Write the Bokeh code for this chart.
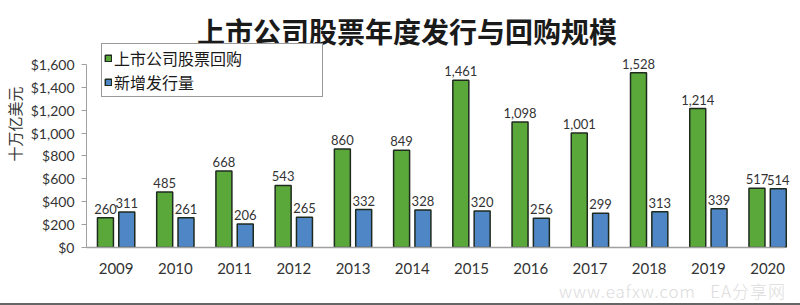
from bokeh.plotting import figure
from bokeh.models import (ColumnDataSource, Range1d, FixedTicker, NumeralTickFormatter,
                          Legend, LegendItem, Label, LabelSet, Div)
from bokeh.layouts import column
from bokeh.core.properties import value
from bokeh.embed import file_html
from bokeh.resources import INLINE

years = ["2009", "2010", "2011", "2012", "2013", "2014", "2015", "2016", "2017", "2018", "2019", "2020"]
buybacks = [260, 485, 668, 543, 860, 849, 1461, 1098, 1001, 1528, 1214, 517]
issuance = [311, 261, 206, 265, 332, 328, 320, 256, 299, 313, 339, 514]
y_ticks = [0, 200, 400, 600, 800, 1000, 1200, 1400, 1600]

title_text = "上市公司股票年度发行与回购规模"
series_names = ["上市公司股票回购", "新增发行量"]
y_label_text = "十万亿美元"
watermark = "www.eafxw.com&nbsp;&nbsp;&nbsp;EA分享网"

GREEN = "#5ba83a"
BLUE = "#4f86c6"
EDGE = "#1f2a1f"
TXT = "#333333"
FONT = "Lato"
CJK = "Noto Sans CJK SC"

idx = list(range(len(years)))
off = 0.18
src = ColumnDataSource(dict(
    x=idx,
    xg=[i - off for i in idx],
    xb=[i + off for i in idx],
    buy=buybacks,
    iss=issuance,
    buy_lbl=[f"{v:,}" for v in buybacks],
    iss_lbl=[f"{v:,}" for v in issuance],
))

p = figure(width=800, height=280, output_backend="svg", toolbar_location=None,
           x_range=Range1d(-0.5, 11.42), y_range=Range1d(0, 2159),
           min_border_left=85, min_border_right=9, min_border_top=0, min_border_bottom=33,
           frame_width=706, frame_height=247)

p.grid.visible = False
p.outline_line_color = None
p.background_fill_color = "white"
p.border_fill_color = "white"

# title drawn inside the top of the frame
p.add_layout(Label(x=4.91, y=1890, text=title_text, text_align="center",
                   text_baseline="middle", text_font=CJK, text_font_size="28px",
                   text_font_style="bold", text_color="#1a1a1a"))

w = 0.27
rg = p.vbar(x="xg", top="buy", width=w, source=src, fill_color=GREEN,
            line_color=EDGE, line_width=1.5)
rb = p.vbar(x="xb", top="iss", width=w, source=src, fill_color=BLUE,
            line_color=EDGE, line_width=1.5)

for xs, ys, ts in (("xg", "buy", "buy_lbl"), ("xb", "iss", "iss_lbl")):
    p.add_layout(LabelSet(x=xs, y=ys, text=ts, source=src, text_align="center",
                          text_baseline="bottom", y_offset=4, text_font=value(FONT),
                          text_font_size="13px", text_color=TXT))

# axes
p.yaxis.ticker = FixedTicker(ticks=y_ticks)
p.yaxis.bounds = (0, 1600)
p.yaxis.formatter = NumeralTickFormatter(format="$0,0")
p.yaxis.major_label_text_font = FONT
p.yaxis.major_label_text_font_size = "14px"
p.yaxis.major_label_text_color = TXT
p.yaxis.axis_line_color = "#a0a0a0"
p.yaxis.major_tick_line_color = "#a0a0a0"
p.yaxis.major_tick_out = 5
p.yaxis.major_tick_in = 0
p.yaxis.minor_tick_line_color = None
p.yaxis.major_label_standoff = 7
p.yaxis.axis_label = y_label_text
p.yaxis.axis_label_text_font = CJK
p.yaxis.axis_label_text_font_size = "15px"
p.yaxis.axis_label_text_font_style = "normal"
p.yaxis.axis_label_text_color = TXT
p.yaxis.axis_label_standoff = 3

p.xaxis.ticker = FixedTicker(ticks=idx)
p.xaxis.bounds = (-0.5, 11.29)
p.xaxis.major_label_overrides = {i: y for i, y in zip(idx, years)}
p.xaxis.major_label_text_font = FONT
p.xaxis.major_label_text_font_size = "15px"
p.xaxis.major_label_text_color = TXT
p.xaxis.axis_line_color = "#a0a0a0"
p.xaxis.axis_line_width = 1.5
p.xaxis.major_tick_line_color = None
p.xaxis.minor_tick_line_color = None
p.xaxis.major_label_standoff = 9

legend = Legend(items=[LegendItem(label=series_names[0], renderers=[rg]),
                       LegendItem(label=series_names[1], renderers=[rb])],
                location=(15, 150), orientation="vertical",
                label_text_font=CJK, label_text_font_size="16px", label_text_color="#1a1a1a",
                glyph_width=8, glyph_height=8, label_height=21, label_width=206,
                label_standoff=2, padding=2, spacing=0, margin=0,
                border_line_color="#333333", border_line_width=1.5,
                background_fill_alpha=1.0)
p.add_layout(legend)

footer = Div(width=800, height=25, margin=(0, 0, 0, 0), text=watermark,
             styles={"box-sizing": "border-box", "border-bottom": "2px solid #666666",
                     "text-align": "right", "padding-right": "14px",
                     "color": "#dcdcdc", "font-family": "'Noto Sans CJK SC', sans-serif",
                     "font-size": "17px", "font-weight": "300", "line-height": "22px",
                     "letter-spacing": "1px", "width": "800px", "height": "25px"})
layout = column(p, footer, spacing=0)

open("out.html", "w").write(file_html(layout, INLINE))
